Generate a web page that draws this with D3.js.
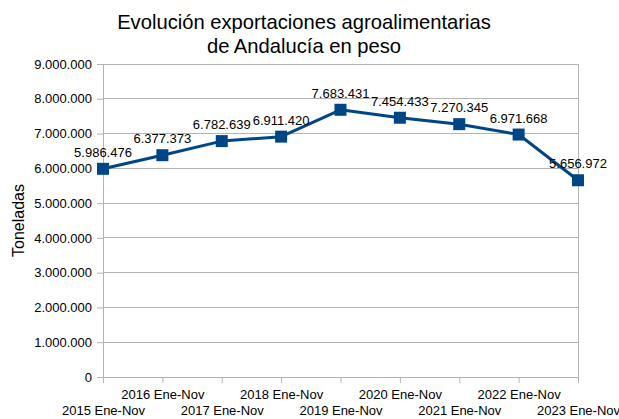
<!DOCTYPE html>
<html><head><meta charset="utf-8">
<script src="https://cdn.jsdelivr.net/npm/d3@7"></script>
<style>body{margin:0;background:#fff}svg{display:block}text{font-family:"Liberation Sans",Arial,sans-serif;fill:#000}</style>
</head><body><svg id="c" width="619" height="419"></svg>
<script>
const categories = ["2015 Ene-Nov","2016 Ene-Nov","2017 Ene-Nov","2018 Ene-Nov","2019 Ene-Nov","2020 Ene-Nov","2021 Ene-Nov","2022 Ene-Nov","2023 Ene-Nov"];
const values = [5986476,6377373,6782639,6911420,7683431,7454433,7270345,6971668,5656972];
const yTicks = [0,1000000,2000000,3000000,4000000,5000000,6000000,7000000,8000000,9000000];
const titleLines = ["Evolución exportaciones agroalimentarias","de Andalucía en peso"];
const yTitle = "Toneladas";

const svg = d3.select("#c");
const L=103, R=578, T=64, B=377;
const fmt = v => d3.format(",")(v).replace(/,/g,".");
const x = d3.scalePoint().domain(categories).range([L,R]);
const y = d3.scaleLinear().domain([0,9000000]).range([B,T]);

// gridlines
svg.append("g").selectAll("line").data(yTicks).join("line")
  .attr("x1",L).attr("x2",R).attr("y1",d=>y(d)).attr("y2",d=>y(d))
  .attr("stroke","#b3b3b3").attr("stroke-width",1).attr("shape-rendering","crispEdges");
svg.append("line").attr("x1",R).attr("x2",R).attr("y1",T).attr("y2",B)
  .attr("stroke","#b3b3b3").attr("shape-rendering","crispEdges");

// y axis
const ya = svg.append("g").attr("transform",`translate(${L},0)`)
  .call(d3.axisLeft(y).tickValues(yTicks).tickFormat(fmt).tickSize(6).tickPadding(5));
ya.select(".domain").attr("stroke","#b3b3b3");
ya.selectAll(".tick line").attr("stroke","#b3b3b3");
ya.selectAll("text").attr("font-size","13px").attr("font-family","Liberation Sans, Arial, sans-serif").attr("fill","#000");

// x axis
const xa = svg.append("g").attr("transform",`translate(0,${B})`)
  .call(d3.axisBottom(x).tickSize(6).tickPadding(2));
xa.select(".domain").attr("stroke","#b3b3b3");
xa.selectAll(".tick line").attr("stroke","#b3b3b3");
xa.selectAll("text").attr("font-size","13px").attr("font-family","Liberation Sans, Arial, sans-serif").attr("fill","#000")
  .attr("dy",(d,i)=> i%2===0 ? "2.3em" : "1.1em");

// line
svg.append("path").datum(values)
  .attr("d", d3.line().x((d,i)=>x(categories[i])).y(d=>y(d)))
  .attr("fill","none").attr("stroke","#004586").attr("stroke-width",3).attr("stroke-linejoin","round");
svg.append("g").selectAll("rect").data(values).join("rect")
  .attr("x",(d,i)=>x(categories[i])-6).attr("y",d=>y(d)-6).attr("width",12).attr("height",12)
  .attr("fill","#004586");

// data labels
svg.append("g").selectAll("text").data(values).join("text")
  .attr("x",(d,i)=>x(categories[i])).attr("y",d=>y(d)-12)
  .attr("text-anchor","middle").attr("font-size","13px").text(fmt);

// title
svg.append("g").selectAll("text").data(titleLines).join("text")
  .attr("x",304).attr("y",(d,i)=>29+i*24).attr("text-anchor","middle")
  .attr("font-size","20.2px").text(d=>d);

svg.append("text").attr("transform",`translate(24,${(T+B)/2}) rotate(-90)`)
  .attr("text-anchor","middle").attr("font-size","16px").text(yTitle);
</script></body></html>
